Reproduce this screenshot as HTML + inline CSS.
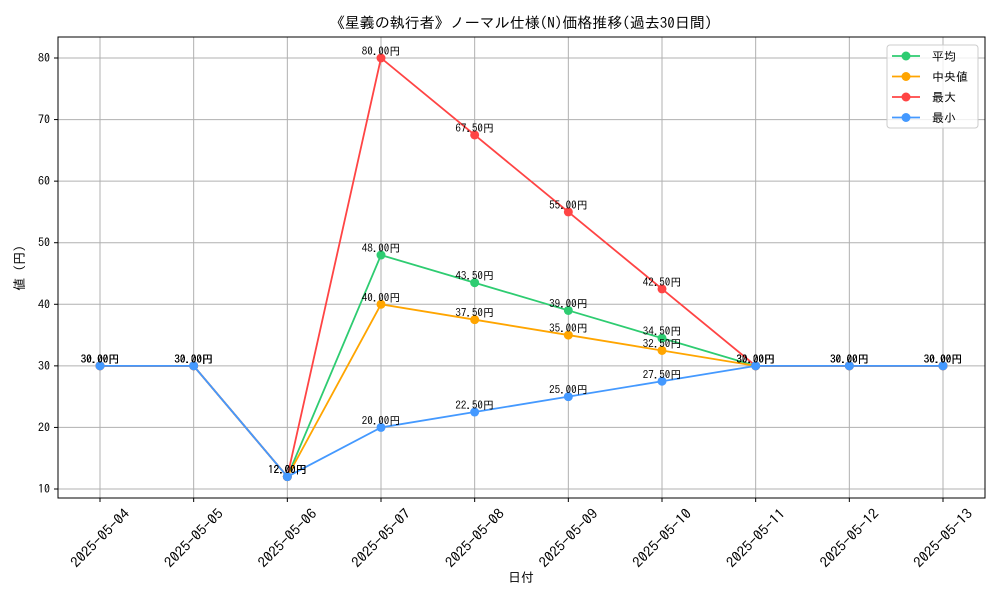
<!DOCTYPE html>
<html><head><meta charset="utf-8"><style>
body{margin:0;background:#fff;}
svg text{font-family:"IPAGothic","Liberation Sans","Noto Sans CJK JP",sans-serif;}
</style></head><body>
<svg id="chart" width="1000" height="600" xmlns="http://www.w3.org/2000/svg">
<text x="521" y="28" font-size="15" text-anchor="middle">《星義の執行者》ノーマル仕様(N)価格推移(過去30日間)</text>
<g id="grid"></g>
<g id="series"></g>
<g id="labels"></g>
<rect x="58" y="37" width="927" height="461" fill="none" stroke="#000" stroke-width="1"/>
<g id="axes"></g>
<text x="521" y="582" font-size="13" text-anchor="middle">日付</text>
<text transform="translate(24,268) rotate(-90)" font-size="13" text-anchor="middle">値 (円)</text>
<g>
<rect x="887" y="45" width="91" height="83" rx="3" fill="#fff" fill-opacity="0.8" stroke="#ccc"/>
<g id="legend-items"></g>
</g>
</svg>
<script>
const dates=["2025-05-04","2025-05-05","2025-05-06","2025-05-07","2025-05-08","2025-05-09","2025-05-10","2025-05-11","2025-05-12","2025-05-13"];
const avgVals=[30,30,12,48,43.5,39,34.5,30,30,30];
const medianVals=[30,30,12,40,37.5,35,32.5,30,30,30];
const maxVals=[30,30,12,80,67.5,55,42.5,30,30,30];
const minVals=[30,30,12,20,22.5,25,27.5,30,30,30];
const yTicks=[10,20,30,40,50,60,70,80];
const seriesNames=["平均","中央値","最大","最小"];
const seriesColors=["#2ecc71","#ffa500","#ff4444","#4499ff"];
const NS="http://www.w3.org/2000/svg";
const x0=100,xStep=(943-100)/9;
function xs(i){return x0+i*xStep;}
function ys(v){return 489-(v-10)*(489-58)/70;}
function mk(tag,attrs,parent){const e=document.createElementNS(NS,tag);for(const k in attrs)e.setAttribute(k,attrs[k]);parent.appendChild(e);return e;}
const grid=document.getElementById('grid'),axes=document.getElementById('axes');
dates.forEach((d,i)=>{
  const l=mk('line',{x1:xs(i),x2:xs(i),y1:37,y2:498,stroke:'#b0b0b0','stroke-width':1},grid);
  
  
  mk('line',{x1:xs(i),x2:xs(i),y1:498,y2:502,stroke:'#000'},axes);
  const cx=xs(i), cy=538;
  const t=mk('text',{x:cx,y:cy+5,'font-size':14,'text-anchor':'middle',textLength:76,lengthAdjust:'spacingAndGlyphs',transform:`rotate(-45 ${cx} ${cy})`},axes);
  
  
  t.textContent=d;
});
yTicks.forEach(v=>{
  const l=mk('line',{x1:58,x2:985,y1:ys(v),y2:ys(v),stroke:'#b0b0b0','stroke-width':1},grid);
  
  
  mk('line',{x1:54,x2:58,y1:ys(v),y2:ys(v),stroke:'#000'},axes);
  const t=mk('text',{x:50,y:ys(v)+4,'font-size':12,'text-anchor':'end'},axes);
  
  
  t.textContent=v;
});
const all=[avgVals,medianVals,maxVals,minVals];
const sg=document.getElementById('series'),lg=document.getElementById('labels');
all.forEach((vals,s)=>{
  const g=mk('g',{},sg);
  
  
  mk('polyline',{points:vals.map((v,i)=>xs(i)+','+ys(v)).join(' '),fill:'none',stroke:seriesColors[s],'stroke-width':1.8},g);
  vals.forEach((v,i)=>{
    const c=mk('circle',{cx:xs(i),cy:ys(v),r:4.5,fill:seriesColors[s]},g);
    
    
    const t=mk('text',{x:xs(i),y:ys(v)-3,'font-size':11,'text-anchor':'middle'},lg);
    
    
    t.textContent=v.toFixed(2)+'円';
  });
});
const li=document.getElementById('legend-items');
seriesNames.forEach((n,s)=>{
  const y=56+s*20.5;
  const g=mk('g',{},li);
  
  
  mk('line',{x1:892,x2:920,y1:y,y2:y,stroke:seriesColors[s],'stroke-width':1.8},g);
  mk('circle',{cx:906,cy:y,r:4.5,fill:seriesColors[s]},g);
  const t=mk('text',{x:932,y:y+4.5,'font-size':12},g);
  t.textContent=n;
});
</script>
</body></html>
